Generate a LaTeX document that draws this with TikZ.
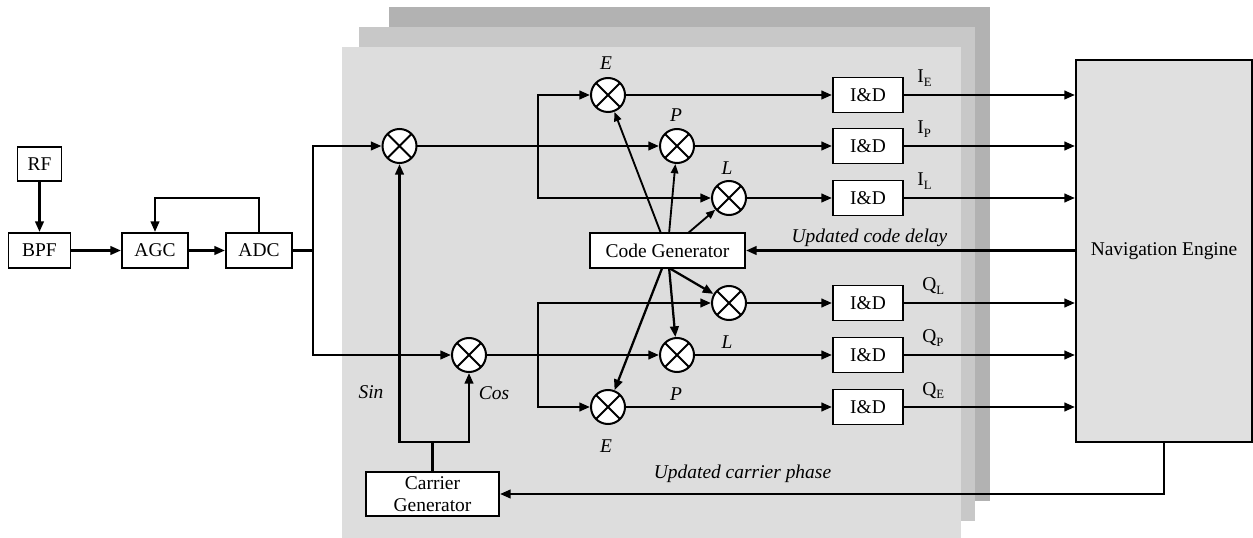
\documentclass[tikz,border=0pt]{standalone}
\usepackage{fontspec}
\setmainfont{Liberation Serif}
\usetikzlibrary{arrows.meta,calc}
\definecolor{panelA}{HTML}{DDDDDD}
\definecolor{panelB}{HTML}{C8C8C8}
\definecolor{panelC}{HTML}{B2B2B2}
\definecolor{navfill}{HTML}{E0E0E0}
\newcommand{\subl}[2]{#1\raisebox{-2.6pt}{\fontsize{9.5}{9.5}\selectfont #2}}
\tikzset{
  px/.style={x=0.75pt,y=-0.75pt},
  blockbox/.style={draw=black,fill=white,line width=1.3pt,inner sep=0pt,outer sep=0pt,align=center,font=\fontsize{14.6}{17}\selectfont},
  idbox/.style={blockbox,minimum width=52.5pt,minimum height=26.25pt},
  mixer/.style={circle,draw=black,fill=white,line width=1.5pt,inner sep=0pt,outer sep=0pt,minimum size=25.5pt,
    path picture={\draw[line width=1.5pt] (path picture bounding box.north west)--(path picture bounding box.south east)
      (path picture bounding box.north east)--(path picture bounding box.south west);}},
  conn/.style={line width=1.7pt,line cap=butt,line join=miter},
  arr/.style={conn,-{Triangle[length=8pt,width=6.5pt]},shorten >=0.8pt},
  thinarr/.style={line width=1.4pt,-{Triangle[length=7pt,width=5.5pt]},shorten >=0.8pt},
  lab/.style={inner sep=0pt,font=\fontsize{14.6}{17}\selectfont},
  ilab/.style={lab,font=\fontsize{14.6}{17}\selectfont\itshape},
}
\begin{document}
\begin{tikzpicture}[px]
\useasboundingbox (0,0) rectangle (1253,538);
\fill[panelC] (389,7) rectangle (990,501);
\fill[panelB] (359,27) rectangle (975,521);
\fill[panelA] (342,47) rectangle (961,538);

% blocks
\node[blockbox,minimum width=33pt,minimum height=25.5pt] (rf) at (39.5,164) {RF};
\node[blockbox,minimum width=46.5pt,minimum height=26.25pt] (bpf) at (39.5,250.5) {BPF};
\node[blockbox,minimum width=49.5pt,minimum height=26.25pt] (agc) at (155,250.5) {AGC};
\node[blockbox,minimum width=49.5pt,minimum height=26.25pt] (adc) at (259,250.5) {ADC};
\node[blockbox,minimum width=116.25pt,minimum height=26.25pt] (cg) at (667.5,250.5) {Code Generator};
\node[blockbox,minimum width=99.75pt,minimum height=33pt] (car) at (432.5,494) {Carrier\\Generator};
\node[blockbox,fill=navfill,minimum width=132pt,minimum height=286.5pt] (nav) at (1164,251) {Navigation Engine};

\node[mixer] (m0) at (399.5,146) {};
\node[mixer] (m1) at (469,355) {};
\node[mixer] (mE) at (608,95) {};
\node[mixer] (mP) at (677,146) {};
\node[mixer] (mL) at (729,198) {};
\node[mixer] (nL) at (729,303) {};
\node[mixer] (nP) at (677,355) {};
\node[mixer] (nE) at (608,407) {};

\node[idbox] (iE) at (868,95) {I\&D};
\node[idbox] (iP) at (868,146) {I\&D};
\node[idbox] (iL) at (868,198) {I\&D};
\node[idbox] (qL) at (868,303) {I\&D};
\node[idbox] (qP) at (868,355) {I\&D};
\node[idbox] (qE) at (868,407) {I\&D};

% junctions
\coordinate (split) at (313,250.5);
\coordinate (brT) at (538,146);
\coordinate (brB) at (538,355);
\coordinate (carJ) at (432.5,442);
\coordinate (fbY) at (0,198);
\coordinate (navJ) at (1164,494);

% front-end
\draw[arr] (rf.south) -- (bpf.north);
\draw[arr] (bpf.east) -- (agc.west);
\draw[arr] (agc.east) -- (adc.west);
\draw[arr] (adc.north) -- (adc.north |- fbY) -- (agc.north |- fbY) -- (agc.north);
\draw[conn] (adc.east) -- (split);
\draw[arr] (split) -- (split |- m0.west) -- (m0.west);
\draw[arr] (split) -- (split |- m1.west) -- (m1.west);

% carrier
\draw[conn] (car.north -| carJ) -- (carJ);
\draw[arr] (carJ) -- (carJ -| m0.south) -- (m0.south);
\draw[arr] (carJ) -- (carJ -| m1.south) -- (m1.south);

% mixer paths
\draw[arr] (m0.east) -- (mP.west);
\draw[arr] (brT) -- (brT |- mE.west) -- (mE.west);
\draw[arr] (brT) -- (brT |- mL.west) -- (mL.west);
\draw[arr] (m1.east) -- (nP.west);
\draw[arr] (brB) -- (brB |- nL.west) -- (nL.west);
\draw[arr] (brB) -- (brB |- nE.west) -- (nE.west);
\draw[line width=2.2pt] (m0.east) -- (brT);
\draw[line width=2.2pt] (m1.east) -- (brB);

% to I&D
\foreach \a/\b in {mE/iE,mP/iP,mL/iL,nL/qL,nP/qP,nE/qE}{\draw[arr] (\a.east) -- (\b.west);}
\foreach \b in {iE,iP,iL,qL,qP,qE}{\draw[arr] (\b.east) -- (\b.east -| nav.west);}

% code generator
\draw[thinarr] ([xshift=-5pt]cg.north) -- (mE);
\draw[thinarr] ([xshift=1.2pt]cg.north) -- (mP);
\draw[thinarr] ([xshift=15.5pt]cg.north) -- (mL);
\draw[arr] ([xshift=-4pt]cg.south) -- (nE);
\draw[arr] ([xshift=1.2pt]cg.south) -- (nP);
\draw[arr] ([xshift=1.2pt]cg.south) -- (nL);

% feedback
\draw[arr] (nav.west |- cg.east) -- (cg.east);
\draw[arr] (nav.south -| navJ) -- (navJ) -- (car.east);

% labels
\node[ilab] (tE) at (606,63) {E};
\node[ilab] (tP) at (676,115) {P};
\node[ilab] (tL) at (727,168) {L};
\node[ilab] (bL) at (727,342) {L};
\node[ilab] (bP) at (676,394) {P};
\node[ilab] (bE) at (606,446) {E};
\node[ilab] (tSin) at (371,392) {Sin};
\node[ilab] (tCos) at (494,393) {Cos};
\node[ilab] (tDelay) at (869.5,237.5) {Updated code delay};
\node[ilab] (tPhase) at (742.5,474) {Updated carrier phase};
\node[lab,anchor=base west] (lIE) at (917,83) {\subl{I}{E}};
\node[lab,anchor=base west] (lIP) at (917,134) {\subl{I}{P}};
\node[lab,anchor=base west] (lIL) at (917,186) {\subl{I}{L}};
\node[lab,anchor=base west] (lQL) at (922,291) {\subl{Q}{L}};
\node[lab,anchor=base west] (lQP) at (922,343) {\subl{Q}{P}};
\node[lab,anchor=base west] (lQE) at (922,395) {\subl{Q}{E}};
\end{tikzpicture}
\end{document}
